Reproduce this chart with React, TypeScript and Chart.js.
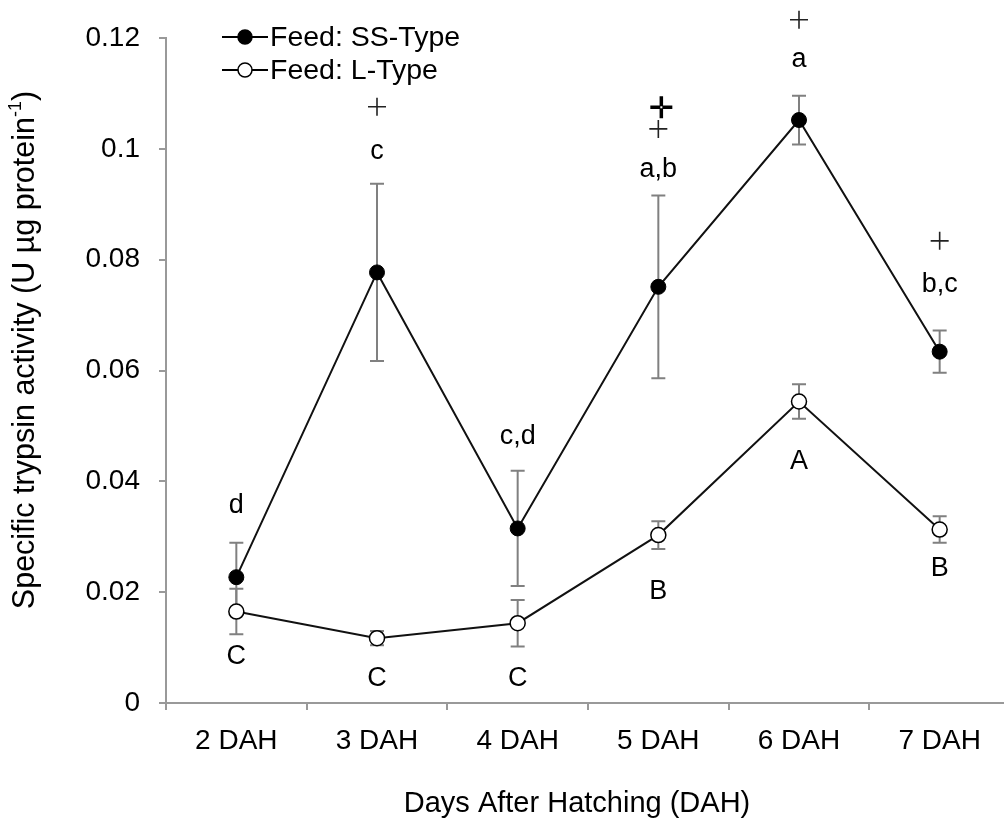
import React, { useEffect, useRef } from 'react';
import { Chart, registerables } from 'chart.js';

Chart.register(...registerables);

const categories = ['2 DAH', '3 DAH', '4 DAH', '5 DAH', '6 DAH', '7 DAH'];
const ssMean = [0.0227, 0.0777, 0.0315, 0.0751, 0.1052, 0.0634];
const ssErr = [0.0062, 0.016, 0.0104, 0.0165, 0.0044, 0.0038];
const lMean = [0.0165, 0.0117, 0.0144, 0.0303, 0.0544, 0.0313];
const lErr = [0.0041, 0.0013, 0.0042, 0.0025, 0.0031, 0.0024];
const ssLetters = ['d', 'c', 'c,d', 'a,b', 'a', 'b,c'];
const ssLetterY = [0.0357, 0.0995, 0.048, 0.0962, 0.1161, 0.0755];
const lLetters = ['C', 'C', 'C', 'B', 'A', 'B'];
const lLetterY = [0.0084, 0.0045, 0.0045, 0.0201, 0.0436, 0.0243];
const plusY: (number | null)[] = [null, 0.1076, null, 0.1036, 0.1233, 0.0834];
const cursorY = 0.1075;
const cursorIndex = 3;
const seriesNames = ['Feed: SS-Type', 'Feed: L-Type'];
const xTitle = 'Days After Hatching (DAH)';
const yTitleMain = 'Specific trypsin activity (U \u00b5g protein';
const yTitleSup = '-1';
const yTitleEnd = ')';

const FONT = '"Liberation Sans", Arial, Helvetica, sans-serif';

export default function App() {
  const ref = useRef<HTMLCanvasElement | null>(null);

  useEffect(() => {
    const canvas = ref.current;
    if (!canvas) return;

    const annot = {
      id: 'annot',
      beforeDatasetsDraw(chart: any) {
        const ctx = chart.ctx;
        const xs = chart.scales.x;
        const ys = chart.scales.y;
        ctx.save();
        ctx.strokeStyle = '#808080';
        ctx.lineWidth = 2;
        const drawErr = (means: number[], errs: number[]) => {
          means.forEach((m, i) => {
            const x = xs.getPixelForValue(i);
            const yt = ys.getPixelForValue(m + errs[i]);
            const yb = ys.getPixelForValue(m - errs[i]);
            ctx.beginPath();
            ctx.moveTo(x, yt);
            ctx.lineTo(x, yb);
            ctx.moveTo(x - 7, yt);
            ctx.lineTo(x + 7, yt);
            ctx.moveTo(x - 7, yb);
            ctx.lineTo(x + 7, yb);
            ctx.stroke();
          });
        };
        drawErr(ssMean, ssErr);
        drawErr(lMean, lErr);
        ctx.restore();
      },
      afterDraw(chart: any) {
        const ctx = chart.ctx;
        const xs = chart.scales.x;
        const ys = chart.scales.y;
        const area = chart.chartArea;
        ctx.save();
        ctx.fillStyle = '#000';
        ctx.textAlign = 'center';
        ctx.textBaseline = 'middle';
        ctx.font = `27px ${FONT}`;
        ssLetters.forEach((t, i) => {
          ctx.fillText(t, xs.getPixelForValue(i), ys.getPixelForValue(ssLetterY[i]));
        });
        lLetters.forEach((t, i) => {
          ctx.fillText(t, xs.getPixelForValue(i), ys.getPixelForValue(lLetterY[i]));
        });
        // plus signs
        ctx.strokeStyle = '#222';
        ctx.lineWidth = 1.6;
        plusY.forEach((v, i) => {
          if (v == null) return;
          const x = xs.getPixelForValue(i);
          const y = ys.getPixelForValue(v);
          ctx.beginPath();
          ctx.moveTo(x - 9, y);
          ctx.lineTo(x + 9, y);
          ctx.moveTo(x, y - 9);
          ctx.lineTo(x, y + 9);
          ctx.stroke();
        });
        // cursor cross
        {
          const x = xs.getPixelForValue(cursorIndex) + 3;
          const y = ys.getPixelForValue(cursorY);
          ctx.strokeStyle = '#000';
          ctx.lineWidth = 3.5;
          ctx.beginPath();
          ctx.moveTo(x - 11, y);
          ctx.lineTo(x + 11, y);
          ctx.moveTo(x, y - 11);
          ctx.lineTo(x, y + 11);
          ctx.stroke();
          ctx.fillStyle = '#fff';
          ctx.fillRect(x - 1, y - 1, 2, 2);
        }
        // legend
        const lx = area.left + 56;
        const rows = [area.top - 1, area.top + 32];
        rows.forEach((ry, k) => {
          ctx.strokeStyle = '#000';
          ctx.lineWidth = 2;
          ctx.beginPath();
          ctx.moveTo(lx, ry);
          ctx.lineTo(lx + 46, ry);
          ctx.stroke();
          ctx.beginPath();
          ctx.arc(lx + 23, ry, 7, 0, Math.PI * 2);
          ctx.fillStyle = k === 0 ? '#000' : '#fff';
          ctx.fill();
          ctx.lineWidth = 1.5;
          ctx.stroke();
          ctx.fillStyle = '#000';
          ctx.textAlign = 'left';
          ctx.font = `28.5px ${FONT}`;
          ctx.fillText(seriesNames[k], lx + 48, ry + 1);
        });
        // x title
        ctx.textAlign = 'center';
        ctx.font = `29px ${FONT}`;
        ctx.fillText(xTitle, (area.left + area.right) / 2 - 11, 804);
        // y title
        ctx.translate(26, 350);
        ctx.rotate(-Math.PI / 2);
        ctx.font = `30.5px ${FONT}`;
        const w1 = ctx.measureText(yTitleMain).width;
        const w3 = ctx.measureText(yTitleEnd).width;
        ctx.font = `18px ${FONT}`;
        const w2 = ctx.measureText(yTitleSup).width;
        const total = w1 + w2 + w3;
        let px = -total / 2;
        ctx.textAlign = 'left';
        ctx.font = `30.5px ${FONT}`;
        ctx.fillText(yTitleMain, px, 0);
        px += w1;
        ctx.font = `18px ${FONT}`;
        ctx.fillText(yTitleSup, px, -10);
        px += w2;
        ctx.font = `30.5px ${FONT}`;
        ctx.fillText(yTitleEnd, px, 0);
        ctx.restore();
      },
    };

    const chart = new Chart(canvas, {
      type: 'line',
      data: {
        labels: categories,
        datasets: [
          {
            label: seriesNames[0],
            data: ssMean,
            borderColor: '#111',
            borderWidth: 2,
            pointRadius: 7.5,
            pointBackgroundColor: '#000',
            pointBorderColor: '#000',
            pointBorderWidth: 1,
            tension: 0,
          },
          {
            label: seriesNames[1],
            data: lMean,
            borderColor: '#111',
            borderWidth: 2,
            pointRadius: 7.5,
            pointBackgroundColor: '#fff',
            pointBorderColor: '#000',
            pointBorderWidth: 1.5,
            tension: 0,
          },
        ],
      },
      options: {
        responsive: false,
        animation: false,
        events: [],
        layout: { padding: { left: 0, top: 38, right: 20, bottom: 0 } },
        plugins: { legend: { display: false }, tooltip: { enabled: false } },
        scales: {
          x: {
            type: 'category',
            offset: true,
            afterFit: (s: any) => {
              s.height = 124;
            },
            grid: {
              offset: true,
              drawOnChartArea: false,
              drawTicks: true,
              tickLength: 7,
              color: '#999',
              lineWidth: 2,
            },
            border: { display: true, color: '#999', width: 2 },
            ticks: {
              color: '#000',
              font: { family: FONT, size: 28 },
              padding: 14,
              maxRotation: 0,
            },
          },
          y: {
            min: 0,
            max: 0.12,
            afterFit: (s: any) => {
              s.width = 166;
            },
            grid: {
              drawOnChartArea: false,
              drawTicks: true,
              tickLength: 7,
              color: '#999',
              lineWidth: 2,
            },
            border: { display: true, color: '#999', width: 2 },
            ticks: {
              stepSize: 0.02,
              color: '#000',
              font: { family: FONT, size: 28 },
              padding: 19,
              callback: (v: any) => String(Number(Number(v).toFixed(2))),
            },
          },
        },
      },
      plugins: [annot],
    });
    return () => chart.destroy();
  }, []);

  return (
    <div
      style={{
        position: 'absolute',
        left: 0,
        top: 0,
        width: 1004,
        height: 827,
        overflow: 'hidden',
        background: '#fff',
      }}
    >
      <canvas ref={ref} width={1030} height={827} style={{ display: 'block' }} />
    </div>
  );
}
